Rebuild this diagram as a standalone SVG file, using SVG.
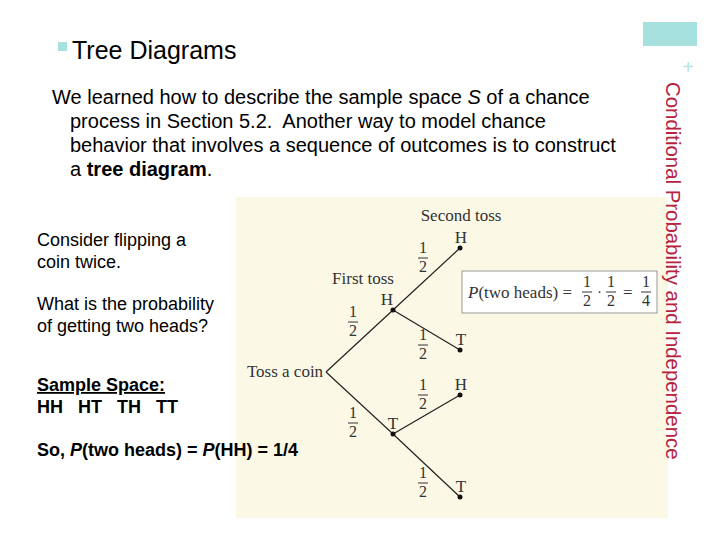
<svg xmlns="http://www.w3.org/2000/svg" width="720" height="540" viewBox="0 0 720 540">
<style>
text{white-space:pre}
.s{font-family:"Liberation Sans",Arial,sans-serif;font-size:18px;fill:#000}
.b{font-size:20px}
.t{font-family:"Liberation Serif","Times New Roman",serif;fill:#333}
.f{font-family:"Liberation Serif","Times New Roman",serif;font-size:16px;fill:#333;text-anchor:middle}
.e{stroke:#222;stroke-width:1.2;fill:none}
</style>
<rect width="720" height="540" fill="#fff"/>
<rect x="236" y="197" width="432" height="321" fill="#fbf8e6"/>
<rect x="643" y="22" width="54" height="24" fill="#a6e0df"/>
<text x="688" y="74" font-family="Liberation Sans,Arial,sans-serif" font-size="20" fill="#b8e4e2" text-anchor="middle">+</text>
<text transform="translate(666,82) rotate(90)" font-family="Liberation Sans,Arial,sans-serif" font-size="20.4" fill="#b5233c">Conditional Probability and Independence</text>
<rect x="58" y="42" width="9" height="9" fill="#a6e0df"/>
<text x="72" y="59" font-family="Liberation Sans,Arial,sans-serif" font-size="25" fill="#000">Tree Diagrams</text>
<g class="s">
<text class="b" x="52" y="104">We learned how to describe the sample space <tspan font-style="italic">S</tspan> of a chance</text>
<text class="b" x="70" y="128">process in Section 5.2.  Another way to model chance</text>
<text class="b" x="70" y="152">behavior that involves a sequence of outcomes is to construct</text>
<text class="b" x="70" y="176">a <tspan font-weight="bold">tree diagram</tspan>.</text>
</g>
<text class="s" x="37" y="246">Consider flipping a</text>
<text class="s" x="37" y="268">coin twice.</text>
<text class="s" x="37" y="310">What is the probability</text>
<text class="s" x="37" y="332">of getting two heads?</text>
<text class="s" x="37" y="391" font-weight="bold" text-decoration="underline">Sample Space:</text>
<text class="s" x="37" y="413" font-weight="bold">HH   HT   TH   TT</text>
<text class="s" x="37" y="456" font-weight="bold">So, <tspan font-style="italic">P</tspan>(two heads) = <tspan font-style="italic">P</tspan>(HH) = 1/4</text>
<g id="edges">
<path class="e" d="M326 372 L393 310 L460 248 M393 310 L460 350 M326 372 L393 434 L460 395 M393 434 L460 497"/>
</g>
<g fill="#111">
<circle id="n-h1" cx="393" cy="310" r="2.5"/><circle id="n-t1" cx="393" cy="434" r="2.5"/>
<circle id="n-hh" cx="460" cy="248" r="2.5"/><circle id="n-ht" cx="460" cy="350" r="2.5"/>
<circle id="n-th" cx="460" cy="395" r="2.5"/><circle id="n-tt" cx="460" cy="497" r="2.5"/>
</g>
<g class="t" font-size="17" text-anchor="middle">
<text x="461" y="221">Second toss</text>
<text x="363" y="284">First toss</text>
<text x="285" y="377">Toss a coin</text>
<text x="387" y="305">H</text><text x="393" y="429">T</text>
<text x="461" y="243">H</text><text x="461" y="345">T</text>
<text x="461" y="390">H</text><text x="461" y="492">T</text>
</g>
<g id="fracs" class="f">
<g transform="translate(423,258)"><text y="-5">1</text><line x1="-5" x2="5" stroke="#333"/><text y="14">2</text></g>
<g transform="translate(353,322)"><text y="-5">1</text><line x1="-5" x2="5" stroke="#333"/><text y="14">2</text></g>
<g transform="translate(423,345)"><text y="-5">1</text><line x1="-5" x2="5" stroke="#333"/><text y="14">2</text></g>
<g transform="translate(423,395)"><text y="-5">1</text><line x1="-5" x2="5" stroke="#333"/><text y="14">2</text></g>
<g transform="translate(353,423)"><text y="-5">1</text><line x1="-5" x2="5" stroke="#333"/><text y="14">2</text></g>
<g transform="translate(423,483)"><text y="-5">1</text><line x1="-5" x2="5" stroke="#333"/><text y="14">2</text></g>
</g>
<g id="box">
<rect x="462" y="271" width="195" height="42" fill="#fff" stroke="#999"/>
<text class="t" x="468" y="298" font-size="17"><tspan font-style="italic">P</tspan>(two heads) =</text>
<g class="f" transform="translate(587,292)"><text y="-5">1</text><line x1="-5" x2="5" stroke="#333"/><text y="14">2</text></g>
<text class="t" x="597" y="297" font-size="15">·</text>
<g class="f" transform="translate(611,292)"><text y="-5">1</text><line x1="-5" x2="5" stroke="#333"/><text y="14">2</text></g>
<text class="t" x="623" y="298" font-size="17">=</text>
<g class="f" transform="translate(646,292)"><text y="-5">1</text><line x1="-5" x2="5" stroke="#333"/><text y="14">4</text></g>
</g>
</svg>
